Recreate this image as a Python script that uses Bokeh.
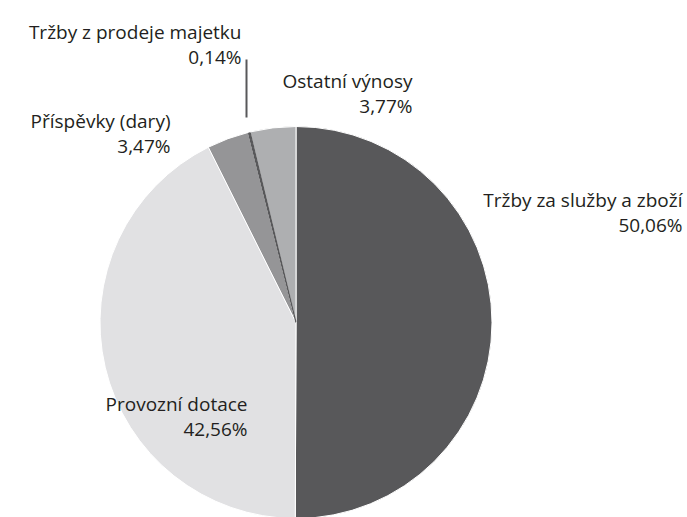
import math
from bokeh.plotting import figure
from bokeh.models import Range1d, ColumnDataSource
from bokeh.core.properties import value
from bokeh.embed import file_html
from bokeh.resources import INLINE

# Data
categories = ["Tržby za služby a zboží", "Provozní dotace", "Příspěvky (dary)",
              "Tržby z prodeje majetku", "Ostatní výnosy"]
shares = [50.06, 42.56, 3.47, 0.14, 3.77]
share_labels = ["50,06%", "42,56%", "3,47%", "0,14%", "3,77%"]
colors = ["#58585a", "#e1e1e3", "#959597", "#58585a", "#aeafb1"]

# layout (page pixel coordinates; y measured from top)
W, H = 687, 517
cx, cy, r = 295.5, 322, 196
label_pos = [  # right edge x, baseline y of first line
    (682, 199),
    (247, 403),
    (170, 120),
    (241, 31),
    (412, 80),
]
line_gap = 25
FONT = "Open Sans"
FS = "19px"

def Y(py):
    return H - py

p = figure(width=W, height=H, output_backend="svg", toolbar_location=None,
           x_range=Range1d(0, W), y_range=Range1d(0, H),
           min_border=0, outline_line_color=None)
p.axis.visible = False
p.grid.visible = False

total = sum(shares)
starts, ends = [], []
cum = 0.0
for s in shares:
    starts.append(math.pi / 2 - 2 * math.pi * cum / total)
    cum += s
    ends.append(math.pi / 2 - 2 * math.pi * cum / total)

src = ColumnDataSource(dict(start=starts, end=ends, color=colors,
                            x=[cx] * len(shares), y=[Y(cy)] * len(shares)))
p.wedge(x="x", y="y", radius=r, start_angle="start", end_angle="end",
        direction="clock", fill_color="color", line_color="white",
        line_width=1, source=src)

# the tiny slice is drawn again so its thin sliver stays visible
small = [i for i, s in enumerate(shares) if s < 1]
src_small = ColumnDataSource(dict(start=[starts[i] for i in small], end=[ends[i] for i in small],
                                  color=[colors[i] for i in small],
                                  x=[cx] * len(small), y=[Y(cy)] * len(small)))
p.wedge(x="x", y="y", radius=r - 1, start_angle="start", end_angle="end",
        direction="clock", fill_color="color", line_color="color",
        line_width=1.2, source=src_small)

# leader line for the tiny slice
p.segment(x0=[246], y0=[Y(59)], x1=[246], y1=[Y(117)], line_color="#58585a", line_width=2)

lx = [pos[0] for pos in label_pos]
p.text(x=lx, y=[Y(pos[1]) for pos in label_pos], text=categories,
       text_align="right", text_baseline="alphabetic", text_font=value(FONT),
       text_font_size=FS, text_color="#231f20")
p.text(x=lx, y=[Y(pos[1] + line_gap) for pos in label_pos], text=share_labels,
       text_align="right", text_baseline="alphabetic", text_font=value(FONT),
       text_font_size=FS, text_color="#231f20")

open("out.html", "w").write(file_html(p, INLINE))
